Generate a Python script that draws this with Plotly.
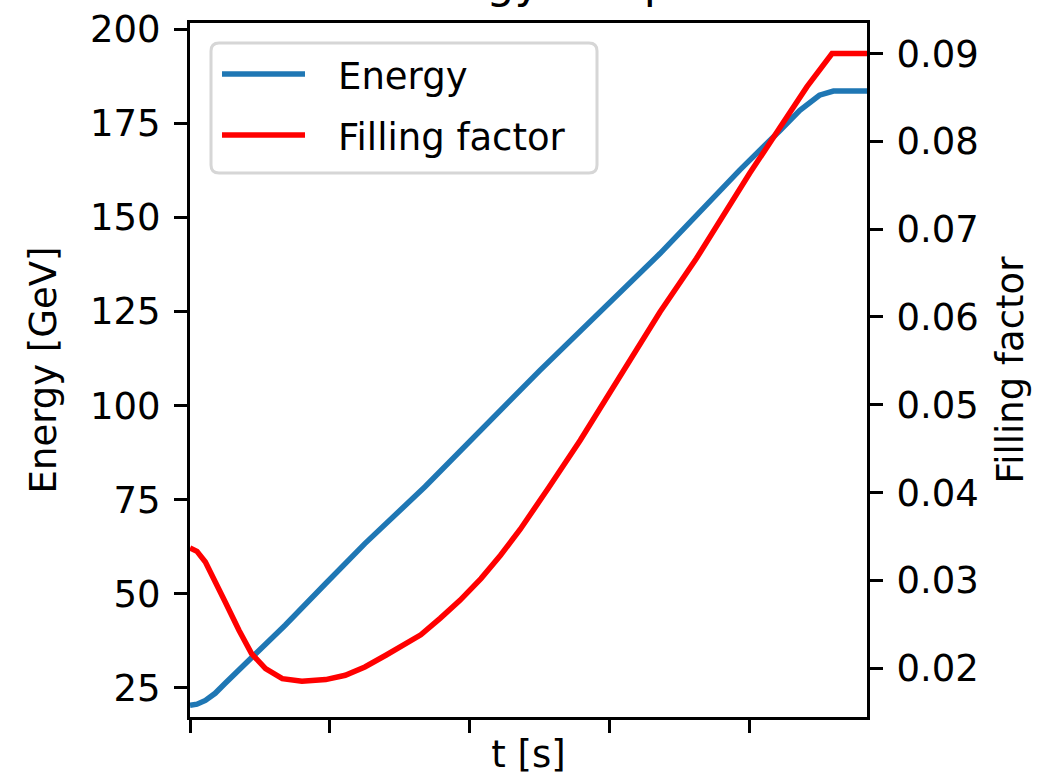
import plotly.graph_objects as go

# Beam energy during the ramp
t_energy = [0.0, 0.05, 0.11, 0.18, 0.25, 0.44, 0.68, 0.97, 1.25, 1.68, 2.50,
            3.36, 3.93, 4.22, 4.36, 4.50, 4.60, 4.84]
energy_gev = [20.3, 20.6, 21.6, 23.5, 26.1, 32.9, 41.6, 52.7, 63.3, 78.4, 109.3,
              140.4, 162.6, 173.2, 178.5, 182.5, 183.6, 183.6]

# Bucket filling factor during the ramp
t_fill = [0.0, 0.05, 0.11, 0.18, 0.25, 0.35, 0.44, 0.54, 0.66, 0.80, 0.97, 1.11,
          1.25, 1.40, 1.54, 1.65, 1.79, 1.93, 2.08, 2.22, 2.36, 2.50, 2.56, 2.79,
          2.98, 3.17, 3.36, 3.62, 3.81, 4.00, 4.22, 4.41, 4.59, 4.84]
filling_factor = [0.0337, 0.0333, 0.0321, 0.0300, 0.0276, 0.02432, 0.02166,
                  0.01995, 0.01881, 0.01851, 0.0187, 0.01919, 0.02014, 0.02147,
                  0.0227, 0.0238, 0.0257, 0.02773, 0.0302, 0.03286, 0.03580,
                  0.03893, 0.04046, 0.04596, 0.05089, 0.05583, 0.06057, 0.06665,
                  0.07158, 0.07633, 0.08164, 0.0862, 0.0900, 0.0900]

energy_ticks = [25, 50, 75, 100, 125, 150, 175, 200]
fill_ticks = [0.02, 0.03, 0.04, 0.05, 0.06, 0.07, 0.08, 0.09]
time_ticks = [0, 1, 2, 3, 4]

FONT = "DejaVu Sans"
BLUE = "#1f77b4"
RED = "#ff0000"

W, H = 1048, 780
ML, MR, MT, MB = 190, 181, 23, 63

fig = go.Figure()
fig.add_trace(go.Scatter(x=t_energy, y=energy_gev, mode="lines", name="Energy",
                         line=dict(color=BLUE, width=5.5), yaxis="y"))
fig.add_trace(go.Scatter(x=t_fill, y=filling_factor, mode="lines", name="Filling factor",
                         line=dict(color=RED, width=5.5), yaxis="y2"))

axis_common = dict(showline=True, linecolor="black", linewidth=3, ticks="outside",
                   ticklen=13, tickwidth=3, tickcolor="black", showgrid=False,
                   zeroline=False, tickfont=dict(family=FONT, size=37, color="black"))

fig.update_layout(
    width=W, height=H,
    margin=dict(l=ML, r=MR, t=MT, b=MB, autoexpand=False),
    paper_bgcolor="white", plot_bgcolor="white",
    showlegend=False,
    font=dict(family=FONT, color="black"),
    xaxis=dict(range=[0, 4.84], tickvals=time_ticks, showticklabels=False, mirror=True,
               title=dict(text="t [s]", font=dict(family=FONT, size=37), standoff=10),
               **axis_common),
    yaxis=dict(range=[17.2, 201.7], tickvals=energy_ticks, ticklabelstandoff=6,
               title=dict(text="Energy [GeV]", font=dict(family=FONT, size=37), standoff=23),
               **axis_common),
    yaxis2=dict(range=[0.01444, 0.09348], tickvals=fill_ticks, tickformat=".2f",
                overlaying="y", side="right", ticklabelstandoff=6,
                title=dict(text="Filling factor", font=dict(family=FONT, size=37), standoff=20),
                **axis_common),
)

# Title, sitting right at the top edge of the page
fig.add_annotation(text="Energy ramp", xref="paper", yref="paper", x=0.5, y=1,
                   xanchor="center", yanchor="bottom", yshift=13, showarrow=False,
                   font=dict(family=FONT, size=44.5, color="black"))


def px_to_paper_x(px):
    return (px - ML) / (W - ML - MR)


def px_to_paper_y(py):
    return 1 - (py - MT) / (H - MT - MB)


def rounded_rect(x0, y0, x1, y1, r):
    X, Y = px_to_paper_x, px_to_paper_y
    return (f"M{X(x0+r)},{Y(y0)} L{X(x1-r)},{Y(y0)} Q{X(x1)},{Y(y0)} {X(x1)},{Y(y0+r)} "
            f"L{X(x1)},{Y(y1-r)} Q{X(x1)},{Y(y1)} {X(x1-r)},{Y(y1)} L{X(x0+r)},{Y(y1)} "
            f"Q{X(x0)},{Y(y1)} {X(x0)},{Y(y1-r)} L{X(x0)},{Y(y0+r)} Q{X(x0)},{Y(y0)} {X(x0+r)},{Y(y0)} Z")


# Legend box in the upper-left corner of the axes
fig.add_shape(type="path", xref="paper", yref="paper", layer="above",
              path=rounded_rect(211, 43, 597, 173, 8),
              fillcolor="rgba(255,255,255,0.8)", line=dict(color="#d6d6d6", width=3))

for name, color, yc in [("Energy", BLUE, 74), ("Filling factor", RED, 135)]:
    fig.add_shape(type="line", xref="paper", yref="paper", layer="above",
                  x0=px_to_paper_x(222), x1=px_to_paper_x(305),
                  y0=px_to_paper_y(yc), y1=px_to_paper_y(yc),
                  line=dict(color=color, width=5.5))
    fig.add_annotation(text=name, xref="paper", yref="paper",
                       x=px_to_paper_x(336), y=px_to_paper_y(yc + 2),
                       xanchor="left", yanchor="middle", showarrow=False,
                       font=dict(family=FONT, size=37, color="black"))

fig.write_html("out.html")
